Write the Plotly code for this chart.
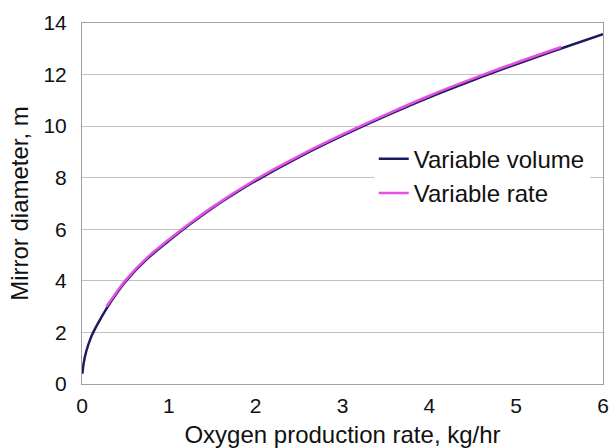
import plotly.graph_objects as go

# Variable volume series
vol_rate = [0.005, 0.02, 0.05, 0.1, 0.15, 0.2, 0.3, 0.4, 0.5, 0.75, 1.0, 1.25, 1.5, 1.75,
            2.0, 2.5, 3.0, 3.5, 4.0, 4.5, 5.0, 5.5, 6.0]
vol_diam = [0.40, 0.82, 1.28, 1.78, 2.14, 2.45, 3.02, 3.52, 3.97, 4.85, 5.55, 6.21, 6.82, 7.37,
            7.88, 8.80, 9.63, 10.40, 11.12, 11.78, 12.40, 12.99, 13.57]

# Variable rate series
rate_rate = [0.28, 0.4, 0.5, 0.75, 1.0, 1.25, 1.5, 2.0, 2.5, 3.0, 3.5, 4.0, 4.5, 5.0, 5.52]
rate_diam = [3.00, 3.57, 4.02, 4.90, 5.60, 6.25, 6.86, 7.93, 8.85, 9.68, 10.45, 11.18, 11.84, 12.46, 13.07]

x_ticks = [0, 1, 2, 3, 4, 5, 6]
y_ticks = [0, 2, 4, 6, 8, 10, 12, 14]

FONT = "Liberation Sans, Arial, sans-serif"
TICK_FS = 21
TITLE_FS = 24

fig = go.Figure()
fig.add_trace(go.Scatter(x=vol_rate, y=vol_diam, mode="lines", name="Variable volume",
                         line=dict(color="#1c1c5e", width=2.5, shape="spline")))
fig.add_trace(go.Scatter(x=rate_rate, y=rate_diam, mode="lines", name="Variable rate",
                         line=dict(color="#e64fe6", width=2.5, shape="spline")))

fig.update_layout(
    width=611, height=448,
    margin=dict(l=82, r=8, t=23, b=64, autoexpand=False),
    paper_bgcolor="white", plot_bgcolor="white",
    font=dict(family=FONT, size=TICK_FS, color="#111111"),
    showlegend=True,
    legend=dict(x=0.56, y=0.685, xanchor="left", yanchor="top",
                bgcolor="white", borderwidth=0, font=dict(size=TITLE_FS),
                tracegroupgap=0, itemwidth=30),
    xaxis=dict(range=[0, 6], tickvals=x_ticks, showgrid=False, automargin=False,
               showline=True, linecolor="#a0a0a0", linewidth=1, mirror=True,
               ticks="", zeroline=False, ticklabelstandoff=3,
               tickfont=dict(size=TICK_FS),
               title=dict(text="Oxygen production rate, kg/hr", standoff=12,
                          font=dict(size=TITLE_FS))),
    yaxis=dict(range=[0, 14], tickvals=y_ticks, showgrid=True, gridcolor="#c0c0c0",
               gridwidth=1, showline=True, linecolor="#a0a0a0", linewidth=1, mirror=True,
               ticks="", zeroline=False, automargin=False, ticklabelstandoff=10,
               tickfont=dict(size=TICK_FS),
               title=dict(text="Mirror diameter, m", standoff=8, font=dict(size=TITLE_FS))),
)

fig.write_html("out.html", config={"displayModeBar": False},
               post_script="document.body.style.margin='0';")
